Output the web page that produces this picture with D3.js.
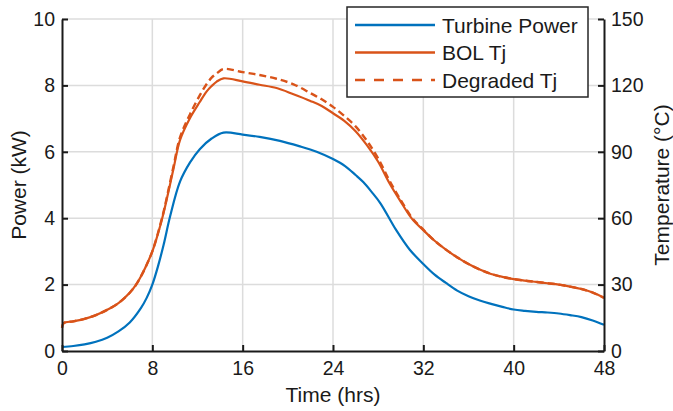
<!DOCTYPE html>
<html>
<head>
<meta charset="utf-8">
<script src="https://cdn.jsdelivr.net/npm/d3@7"></script>
<style>
  html, body { margin: 0; padding: 0; background: #fff; }
  svg { display: block; font-family: "Liberation Sans", Arial, Helvetica, sans-serif; }
</style>
</head>
<body>
<svg id="chart" width="673" height="411"></svg>
<script>
// ---- Data ----
const xTicks = [0, 8, 16, 24, 32, 40, 48];
const powerTicks = [0, 2, 4, 6, 8, 10];
const tempTicks = [0, 30, 60, 90, 120, 150];
const seriesNames = ["Turbine Power", "BOL Tj", "Degraded Tj"];

const powerTime = [0, 1, 2, 3, 4, 5, 6, 7, 7.5, 8, 8.5, 9, 9.57, 10.45, 11.34, 12.2, 13.25, 14.3, 16, 17.5, 19.3, 21, 22.55, 24, 25.07, 26, 26.7, 27.4, 28.2, 29.6, 30.8, 32, 33, 34, 35, 36, 37, 38, 39, 40, 41, 42, 43, 44, 45, 46, 47, 48];
const powerKW = [0.12, 0.15, 0.2, 0.28, 0.4, 0.59, 0.86, 1.3, 1.6, 2.0, 2.55, 3.2, 4.05, 5.1, 5.68, 6.08, 6.4, 6.58, 6.52, 6.45, 6.33, 6.17, 6.0, 5.78, 5.57, 5.3, 5.08, 4.8, 4.45, 3.64, 3.05, 2.62, 2.3, 2.05, 1.82, 1.65, 1.52, 1.42, 1.33, 1.25, 1.21, 1.18, 1.16, 1.13, 1.08, 1.02, 0.92, 0.79];

const tempTime = [0, 0.15, 1, 2, 3, 4, 5, 6, 6.5, 7, 7.5, 8, 8.5, 9, 9.86, 10.45, 11.34, 12.2, 12.8, 13.25, 13.7, 14.3, 16, 17.5, 19, 20.5, 22, 23, 24, 25, 26, 27, 28, 29, 29.9, 31, 32, 33, 34, 35, 36, 37, 38, 39, 40, 41, 42, 43, 44, 45, 46, 47, 48];
const bolTemp = [10.5, 12.6, 13.4, 14.5, 16.2, 18.6, 21.6, 26.3, 29.5, 33.8, 39, 45, 53, 62.5, 82, 95.3, 105.3, 112.5, 117.2, 119.7, 121.7, 123.2, 121.8, 120.3, 118.8, 116, 113, 110.7, 107.4, 104, 99.3, 93, 85.5, 75.8, 68.3, 59.7, 54.6, 49.8, 45.8, 42.3, 39.3, 36.8, 34.8, 33.5, 32.5, 31.8, 31.2, 30.6, 30, 29.1, 28, 26.4, 24];
const degradedTemp = [10.5, 12.6, 13.4, 14.5, 16.2, 18.6, 21.6, 26.3, 29.5, 33.8, 39, 45, 53.3, 63, 83, 96.5, 107, 115.5, 120.5, 123.5, 125.4, 127.4, 126, 124.7, 123, 120.5, 116.5, 113.7, 110.3, 106.2, 101.5, 95, 87, 77, 69, 60.2, 54.8, 49.8, 45.8, 42.3, 39.3, 36.8, 34.8, 33.5, 32.5, 31.8, 31.2, 30.6, 30, 29.1, 28, 26.4, 24];

// ---- Layout ----
const svg = d3.select("#chart");
const L = 62, R = 604, T = 19, B = 351;
const blue = "#0072BD", orange = "#D95319", axisCol = "#1a1a1a";
const tickFont = 19.5, labelFont = 21;

const x = d3.scaleLinear().domain([0, 48]).range([L, R]);
const yP = d3.scaleLinear().domain([0, 10]).range([B, T]);
const yT = d3.scaleLinear().domain([0, 150]).range([B, T]);

// grid
const grid = svg.append("g").attr("stroke", "#dcdcdc").attr("stroke-width", 1.5);
xTicks.filter(t => t > 0 && t < 48).forEach(t => {
  grid.append("line").attr("x1", x(t)).attr("x2", x(t)).attr("y1", T).attr("y2", B);
});
powerTicks.filter(t => t > 0).forEach(t => {
  grid.append("line").attr("x1", L).attr("x2", R).attr("y1", yP(t)).attr("y2", yP(t));
});

// lines
const powerData = powerTime.map((t, i) => [t, powerKW[i]]);
const bolData = tempTime.map((t, i) => [t, bolTemp[i]]);
const degData = tempTime.map((t, i) => [t, degradedTemp[i]]);
const curve = d3.curveCatmullRom.alpha(0.5);
const lineP = d3.line().x(d => x(d[0])).y(d => yP(d[1])).curve(curve);
const lineT = d3.line().x(d => x(d[0])).y(d => yT(d[1])).curve(curve);

svg.append("path").datum(powerData).attr("d", lineP)
  .attr("fill", "none").attr("stroke", blue).attr("stroke-width", 2.2);
svg.append("path").datum(degData).attr("d", lineT)
  .attr("fill", "none").attr("stroke", orange).attr("stroke-width", 2.4)
  .attr("stroke-dasharray", "7,4");
svg.append("path").datum(bolData).attr("d", lineT)
  .attr("fill", "none").attr("stroke", orange).attr("stroke-width", 2.2);

// axes
const axB = d3.axisBottom(x).tickValues(xTicks).tickSizeInner(-6).tickSizeOuter(0).tickPadding(10);
const axL = d3.axisLeft(yP).tickValues(powerTicks).tickSizeInner(-6).tickSizeOuter(0).tickPadding(7);
const axR = d3.axisRight(yT).tickValues(tempTicks).tickSizeInner(-6).tickSizeOuter(0).tickPadding(7);

function style(g) {
  g.selectAll("path.domain").attr("stroke", axisCol).attr("stroke-width", 2);
  g.selectAll(".tick line").attr("stroke", axisCol).attr("stroke-width", 2);
  g.selectAll(".tick text").attr("fill", "#1a1a1a").style("font-size", tickFont + "px")
    .style("font-family", '"Liberation Sans", Arial, sans-serif');
}
svg.append("g").attr("transform", `translate(0,${B})`).call(axB).call(style);
svg.append("g").attr("transform", `translate(${L},0)`).call(axL).call(style);
svg.append("g").attr("transform", `translate(${R},0)`).call(axR).call(style);

// axis labels
svg.append("text").attr("x", (L + R) / 2).attr("y", 402).attr("text-anchor", "middle")
  .style("font-size", labelFont + "px").attr("fill", "#1a1a1a").text("Time (hrs)");
svg.append("text").attr("transform", `translate(25.5,${(T + B) / 2}) rotate(-90)`)
  .attr("text-anchor", "middle").style("font-size", labelFont + "px").attr("fill", "#1a1a1a")
  .text("Power (kW)");
svg.append("text").attr("transform", `translate(669,${(T + B) / 2}) rotate(-90)`)
  .attr("text-anchor", "middle").style("font-size", labelFont + "px").attr("fill", "#1a1a1a")
  .text("Temperature (°C)");

// legend
const lg = svg.append("g");
lg.append("rect").attr("x", 347).attr("y", 7).attr("width", 241).attr("height", 90)
  .attr("fill", "#fff").attr("stroke", "#262626").attr("stroke-width", 1.5);
const rowsY = [25, 52.5, 80];
const legStyles = [
  { c: blue, dash: null },
  { c: orange, dash: null },
  { c: orange, dash: "10,9" }
];
seriesNames.forEach((name, i) => {
  const ln = lg.append("line").attr("x1", 355).attr("x2", 435).attr("y1", rowsY[i]).attr("y2", rowsY[i])
    .attr("stroke", legStyles[i].c).attr("stroke-width", 2.4);
  if (legStyles[i].dash) ln.attr("stroke-dasharray", legStyles[i].dash);
  lg.append("text").attr("x", 442).attr("y", rowsY[i]).attr("dy", "0.36em")
    .style("font-size", labelFont + "px").attr("fill", "#1a1a1a").text(name);
});
</script>
</body>
</html>
